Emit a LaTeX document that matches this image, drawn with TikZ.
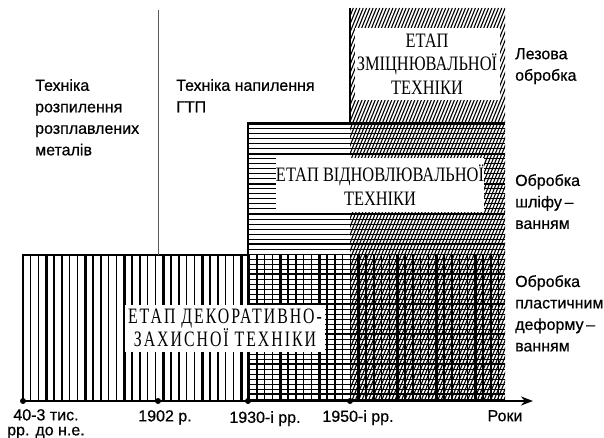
\documentclass[tikz,border=0pt]{standalone}
\usepackage{fontspec}
\setmainfont{Liberation Sans}
\newfontfamily\lblfont[FakeBold=0.6]{Liberation Sans}
\newfontfamily\stagefont[FakeStretch=0.8]{Liberation Serif}
\newfontfamily\stagefontsp[FakeStretch=0.72, LetterSpace=9]{Liberation Serif}
\usetikzlibrary{arrows.meta, positioning}

\begin{document}
\begin{tikzpicture}[x=1pt, y=-1pt,
	lbl/.style={font=\lblfont\fontsize{16}{21.5}\selectfont, align=left, anchor=north west, inner sep=0pt},
	yr/.style={font=\lblfont\fontsize{16}{15}\selectfont, align=center, anchor=north, inner sep=0pt},
	stage/.style={font=\stagefont\fontsize{20.5}{23.5}\selectfont, align=center, fill=white, inner sep=0pt},
	tick/.style={circle, fill=black, minimum size=6pt, inner sep=0pt},
	frame/.style={line width=2.4pt}]
	\useasboundingbox (0,0) rectangle (604,438);
	% етап декоративно-захисної техніки
	\begin{scope}
		\clip (23,255) rectangle (505,401);
		\foreach \i in {0,...,62}{
			\pgfmathsetmacro{\w}{mod(\i,5)>2 ? 2.4 : 1.1}
			\draw[line width=\w pt] (23+\i*7.8,255) -- (23+\i*7.8,401);}
	\end{scope}
	% етап відновлювальної техніки
	\foreach \j in {0,...,55}{
		\pgfmathsetmacro{\w}{mod(\j,6)==0 ? 2 : 1}
		\draw[line width=\w pt] (248,124+\j*5) -- (505,124+\j*5);}
	% етап зміцнювальної техніки
	\begin{scope}
		\clip (350,8) rectangle (505,401);
		\foreach \k in {0,...,100}{
			\draw[line width=1.1pt] (190+\k*3.3,401) -- (350+\k*3.3,8);}
	\end{scope}
	\draw[frame] (23,401) -- (23,255) -- (248,255);
	\draw[frame] (248,401) -- (248,123) -- (505,123);
	\draw[frame] (350,123) -- (350,8);
	\draw[gray!70!black, line width=0.7pt] (158,10) -- (158,255);
	% підписи етапів
	\node[stage, minimum width=145pt, minimum height=72pt] (zmits) at (427,64)
		{ЕТАП\\ЗМІЦНЮВАЛЬНОЇ\\ТЕХНІКИ};
	\node[stage, minimum width=206pt, minimum height=54pt] (vidnov) at (380,185)
		{ЕТАП ВІДНОВЛЮВАЛЬНОЇ\\ТЕХНІКИ};
	\node[stage, font=\stagefontsp\fontsize{22}{23}\selectfont, minimum width=200pt, minimum height=47pt] (dekor) at (225,328)
		{ЕТАП ДЕКОРАТИВНО-\\ЗАХИСНОЇ ТЕХНІКИ};
	% методи
	\node[lbl] (rozpyl) at (35,79) {Техніка\\розпилення\\розплавлених\\металів};
	\node[lbl] (napyl) at (176,79) {Техніка напилення\\ГТП};
	\node[lbl] (lez) at (515,48) {Лезова\\обробка};
	\node[lbl] (shlif) at (515,174) {Обробка\\шліфу\,–\\ванням};
	\node[lbl] (plast) at (515,275) {Обробка\\пластичним\\деформу\,–\\ванням};
	% вісь часу
	\node[tick] (t0) at (23,401) {};
	\node[tick] (t1) at (158,401) {};
	\node[tick] (t2) at (248,401) {};
	\node[tick] (t3) at (350,401) {};
	\coordinate (tend) at (533,401);
	\draw[frame, -{Stealth[length=12pt, width=9pt]}] (t0.center) -- (tend);
	\node[yr] (y0) at (46,409) {40-3 тис.\\рр. до н.е.};
	\node[yr] (y1) at (165,410) {1902 р.};
	\node[yr] (y2) at (265,411) {1930-і рр.};
	\node[yr] (y3) at (358,410) {1950-і рр.};
	\node[yr] (y4) at (505,410) {Роки};
\end{tikzpicture}
\end{document}
